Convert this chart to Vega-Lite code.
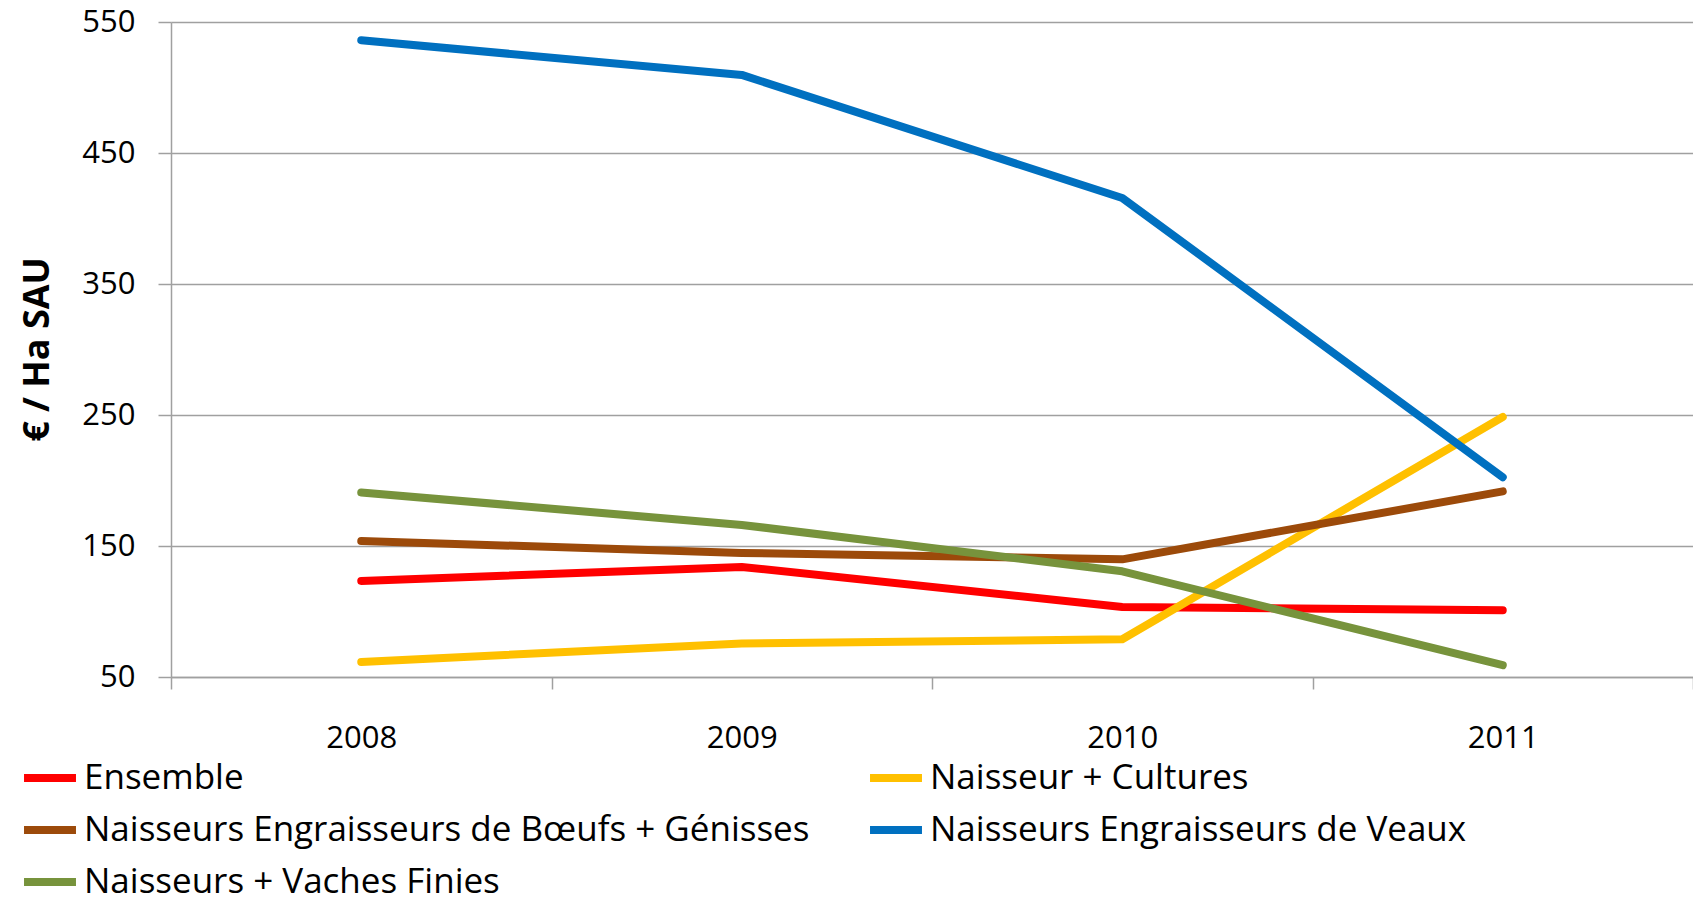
{
  "$schema": "https://vega.github.io/schema/vega-lite/v6.json",
  "autosize": {"type": "none"},
  "padding": {"left": 171, "top": 22, "right": 0, "bottom": 222},
  "width": 1522,
  "height": 655,
  "background": "white",
  "config": {
    "font": "Open Sans",
    "view": {"stroke": null}
  },
  "data": {
    "values": [
      {"annee": "2008", "serie": "Ensemble", "valeur": 123.3},
      {"annee": "2009", "serie": "Ensemble", "valeur": 134},
      {"annee": "2010", "serie": "Ensemble", "valeur": 103.5},
      {"annee": "2011", "serie": "Ensemble", "valeur": 101},
      {"annee": "2008", "serie": "Naisseur + Cultures", "valeur": 61.5},
      {"annee": "2009", "serie": "Naisseur + Cultures", "valeur": 75.5},
      {"annee": "2010", "serie": "Naisseur + Cultures", "valeur": 78.8},
      {"annee": "2011", "serie": "Naisseur + Cultures", "valeur": 248.5},
      {"annee": "2008", "serie": "Naisseurs Engraisseurs de Bœufs + Génisses", "valeur": 153.8},
      {"annee": "2009", "serie": "Naisseurs Engraisseurs de Bœufs + Génisses", "valeur": 144.7},
      {"annee": "2010", "serie": "Naisseurs Engraisseurs de Bœufs + Génisses", "valeur": 139.8},
      {"annee": "2011", "serie": "Naisseurs Engraisseurs de Bœufs + Génisses", "valeur": 191.7},
      {"annee": "2008", "serie": "Naisseurs Engraisseurs de Veaux", "valeur": 536},
      {"annee": "2009", "serie": "Naisseurs Engraisseurs de Veaux", "valeur": 509.6},
      {"annee": "2010", "serie": "Naisseurs Engraisseurs de Veaux", "valeur": 415.7},
      {"annee": "2011", "serie": "Naisseurs Engraisseurs de Veaux", "valeur": 202.5},
      {"annee": "2008", "serie": "Naisseurs + Vaches Finies", "valeur": 190.9},
      {"annee": "2009", "serie": "Naisseurs + Vaches Finies", "valeur": 166.1},
      {"annee": "2010", "serie": "Naisseurs + Vaches Finies", "valeur": 130.7},
      {"annee": "2011", "serie": "Naisseurs + Vaches Finies", "valeur": 59}
    ]
  },
  "mark": {"type": "line", "strokeWidth": 8, "strokeCap": "round", "strokeJoin": "round"},
  "encoding": {
    "x": {
      "field": "annee",
      "type": "ordinal",
      "bandPosition": 0.5,
      "scale": {"type": "band", "paddingInner": 0, "paddingOuter": 0},
      "axis": {
        "title": null,
        "labelAngle": 0,
        "labelFontSize": 31,
        "labelColor": "#000000",
        "labelPadding": 34,
        "tickBand": "extent",
        "tickSize": 12,
        "tickColor": "#A0A0A0",
        "tickWidth": 1.5,
        "domain": true,
        "domainColor": "#A0A0A0",
        "domainWidth": 1.5,
        "grid": false
      }
    },
    "y": {
      "field": "valeur",
      "type": "quantitative",
      "scale": {"domain": [50, 550], "nice": false, "zero": false},
      "axis": {
        "title": "€ / Ha SAU",
        "titleFontSize": 36,
        "titleFontWeight": "bold",
        "titleColor": "#000000",
        "titleX": -134,
        "titleY": 327,
        "titleAngle": -90,
        "titleAlign": "center",
        "titleBaseline": "middle",
        "values": [50, 150, 250, 350, 450, 550],
        "labelFontSize": 31,
        "labelColor": "#000000",
        "labelPadding": 23,
        "tickSize": 13,
        "tickColor": "#A0A0A0",
        "tickWidth": 1.5,
        "domainColor": "#A0A0A0",
        "domainWidth": 1.5,
        "grid": true,
        "gridColor": "#A0A0A0",
        "gridWidth": 1.5
      }
    },
    "color": {
      "field": "serie",
      "type": "nominal",
      "scale": {
        "domain": ["Ensemble", "Naisseurs Engraisseurs de Bœufs + Génisses", "Naisseurs + Vaches Finies", "Naisseur + Cultures", "Naisseurs Engraisseurs de Veaux"],
        "range": ["#FF0000", "#9C4A0A", "#77933C", "#FFC000", "#0070C0"]
      },
      "legend": {
        "title": null,
        "orient": "none",
        "legendX": -151,
        "legendY": 726,
        "columns": 2,
        "columnPadding": 44,
        "rowPadding": 4,
        "symbolType": "stroke",
        "symbolSize": 2700,
        "symbolStrokeWidth": 8,
        "labelFontSize": 35,
        "labelColor": "#000000",
        "labelLimit": 1200,
        "labelOffset": 4,
        "labelBaseline": "middle"
      }
    }
  }
}
